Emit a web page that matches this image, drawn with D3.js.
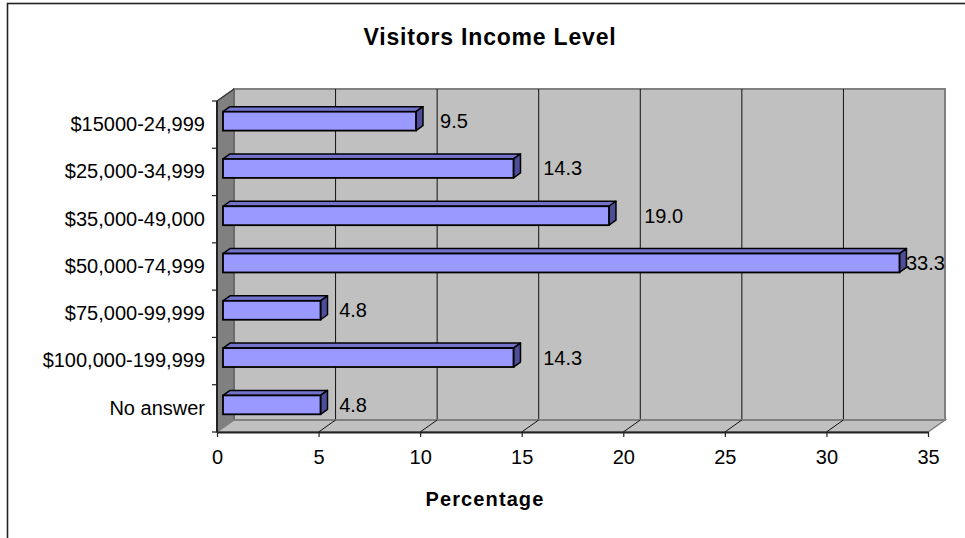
<!DOCTYPE html>
<html>
<head>
<meta charset="utf-8">
<script src="https://cdn.jsdelivr.net/npm/d3@7"></script>
<style>
  html, body { margin: 0; padding: 0; background: #fff; }
  svg { display: block; font-family: "Liberation Sans", Arial, sans-serif; }
</style>
</head>
<body>
<svg id="chart" width="965" height="538"></svg>
<script>
const categories = ["$15000-24,999", "$25,000-34,999", "$35,000-49,000", "$50,000-74,999", "$75,000-99,999", "$100,000-199,999", "No answer"];
const values = [9.5, 14.3, 19.0, 33.3, 4.8, 14.3, 4.8];
const xTicks = [0, 5, 10, 15, 20, 25, 30, 35];
const titleText = "Visitors Income Level";
const xTitle = "Percentage";

const svg = d3.select("#chart");

// frame
svg.append("rect").attr("x", 7.5).attr("y", 3.5).attr("width", 1000).attr("height", 600)
  .attr("fill", "#fff").attr("stroke", "#222").attr("stroke-width", 1.6);

// front plane geometry
const x0 = 217, x1 = 928, yTop = 101, yBot = 432;
const dx = 17, dy = -12; // depth
const x = d3.scaleLinear().domain([0, 35]).range([x0, x1]);
const y = d3.scaleBand().domain(categories).range([yTop, yBot]).paddingInner(0.6).paddingOuter(0.3);
const step = (yBot - yTop) / categories.length;

const wallFill = "#c0c0c0", edge = "#808080";
const pts = arr => arr.map(p => p.join(",")).join(" ");

// back wall
svg.append("rect").attr("x", x0 + dx).attr("y", yTop + dy).attr("width", x1 - x0).attr("height", yBot - yTop)
  .attr("fill", wallFill).attr("stroke", edge).attr("stroke-width", 2);

// gridlines on back wall
svg.append("g").selectAll("line").data(xTicks.filter(t => t > 0 && t < 35)).join("line")
  .attr("x1", d => x(d) + dx).attr("x2", d => x(d) + dx)
  .attr("y1", yTop + dy).attr("y2", yBot + dy)
  .attr("stroke", "#111").attr("stroke-width", 1);

// left side wall
svg.append("polygon")
  .attr("points", pts([[x0, yTop], [x0 + dx, yTop + dy], [x0 + dx, yBot + dy], [x0, yBot]]))
  .attr("fill", "#808080").attr("stroke", "#555").attr("stroke-width", 1);

// floor
svg.append("polygon")
  .attr("points", pts([[x0, yBot], [x1, yBot], [x1 + dx, yBot + dy], [x0 + dx, yBot + dy]]))
  .attr("fill", wallFill).attr("stroke", edge).attr("stroke-width", 1.5);
svg.append("line").attr("x1", x0 + dx).attr("x2", x1 + dx).attr("y1", yBot + dy).attr("y2", yBot + dy)
  .attr("stroke", edge).attr("stroke-width", 2);

// floor diagonals
svg.append("g").selectAll("line").data(xTicks.filter(t => t > 0 && t < 35)).join("line")
  .attr("x1", d => x(d)).attr("x2", d => x(d) + dx)
  .attr("y1", yBot).attr("y2", yBot + dy)
  .attr("stroke", "#111").attr("stroke-width", 1);

// bars
const ox = 6, oy = -3.5, bx = 7, by = -5;
const data = categories.map((c, i) => ({ c, v: values[i] }));
const bars = svg.append("g").selectAll("g").data(data).join("g");
bars.each(function (d) {
  const g = d3.select(this);
  const xs = x(0) + ox, xe = x(d.v) + ox;
  const yb = y(d.c) + oy, bw = y.bandwidth();
  g.append("polygon")
    .attr("points", pts([[xs, yb], [xs + bx, yb + by], [xe + bx, yb + by], [xe, yb]]))
    .attr("fill", "#7373cc").attr("stroke", "#000").attr("stroke-width", 1.5).attr("stroke-linejoin", "round");
  g.append("polygon")
    .attr("points", pts([[xe, yb], [xe + bx, yb + by], [xe + bx, yb + bw + by], [xe, yb + bw]]))
    .attr("fill", "#4d4d99").attr("stroke", "#000").attr("stroke-width", 1.5).attr("stroke-linejoin", "round");
  g.append("rect").attr("x", xs).attr("y", yb).attr("width", xe - xs).attr("height", bw)
    .attr("fill", "#9999ff").attr("stroke", "#000").attr("stroke-width", 1.8);
});

// value labels
const labelScale = d3.scaleLinear().domain([0, 35]).range([236, 988]);
svg.append("g").selectAll("text").data(data).join("text")
  .attr("x", d => Math.min(labelScale(d.v), x1 + dx - 39))
  .attr("y", d => y(d.c) + y.bandwidth() / 2 - 3.5)
  .attr("dy", "0.35em")
  .attr("font-size", 20).attr("fill", "#000")
  .text(d => d3.format(".1f")(d.v));

// x axis
const xAxis = svg.append("g").attr("transform", `translate(0,${yBot})`)
  .call(d3.axisBottom(x).tickValues(xTicks).tickSize(5).tickSizeOuter(0).tickPadding(13));
xAxis.select(".domain").attr("stroke", "#222").attr("stroke-width", 2);
xAxis.selectAll(".tick line").attr("stroke", "#222").attr("stroke-width", 1.2);
xAxis.selectAll("text").attr("font-size", 20).attr("font-family", "Liberation Sans, Arial, sans-serif").attr("fill", "#000");

// y axis labels
const yAxis = svg.append("g").attr("transform", `translate(${x0},0)`)
  .call(d3.axisLeft(y).tickSize(0).tickPadding(12));
yAxis.select(".domain").remove();
yAxis.selectAll("text").attr("font-size", 20).attr("font-family", "Liberation Sans, Arial, sans-serif").attr("fill", "#000");

// y axis line and boundary ticks
svg.append("line").attr("x1", x0).attr("x2", x0).attr("y1", yTop).attr("y2", yBot)
  .attr("stroke", "#222").attr("stroke-width", 2);
svg.append("g").selectAll("line").data(d3.range(categories.length + 1)).join("line")
  .attr("x1", x0 - 5).attr("x2", x0)
  .attr("y1", i => yTop + i * step).attr("y2", i => yTop + i * step)
  .attr("stroke", "#222").attr("stroke-width", 1.2);
svg.append("line").attr("x1", x0).attr("y1", yTop).attr("x2", x0 + dx).attr("y2", yTop + dy)
  .attr("stroke", "#333").attr("stroke-width", 1.2);

// titles
svg.append("text").attr("x", 490).attr("y", 45).attr("text-anchor", "middle")
  .attr("font-size", 23).attr("font-weight", "bold").attr("letter-spacing", 0.8).text(titleText);
svg.append("text").attr("x", 485).attr("y", 505.5).attr("text-anchor", "middle")
  .attr("font-size", 20).attr("font-weight", "bold").attr("letter-spacing", 1.1).text(xTitle);
</script>
</body>
</html>
